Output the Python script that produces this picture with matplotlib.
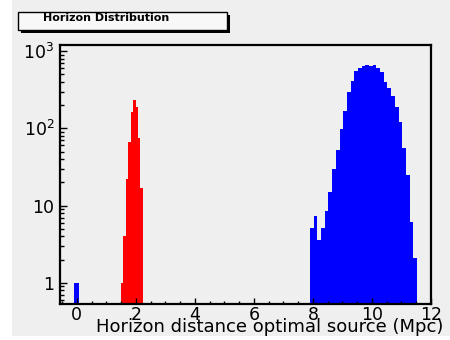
import numpy as np
import matplotlib
matplotlib.use("Agg")
import matplotlib.pyplot as plt
from matplotlib.patches import Rectangle
from matplotlib.ticker import FixedLocator, MultipleLocator, LogLocator, NullFormatter

# Histogram contents (counts per bin)
zero_low, zero_width = -0.09, 0.18
zero_counts = [1]

red_low, red_width = 1.49, 0.0833
red_counts = [1.0, 4.0, 22, 66, 165, 230, 190, 75, 17]

blue_low, blue_width = 7.9, 0.125
blue_counts = [5.2, 7.3, 3.6, 5.2, 8.4, 15, 30, 53, 97, 166, 294, 408, 550, 600,
               650, 670, 640, 670, 600, 534, 396, 330, 260, 190, 120, 55, 25,
               6.2, 2.1]

x_ticks = [0, 2, 4, 6, 8, 10, 12]
y_ticks = [1, 10, 100, 1000]
y_tick_labels = ["1", "10", r"10$^{2}$", r"10$^{3}$"]

title_text = "Horizon Distribution"
x_title = "Horizon distance optimal source (Mpc)"

W, H = 450, 340
bg = "#efefef"
plt.rcParams["font.family"] = ["DejaVu Sans"]
plt.rcParams["mathtext.fontset"] = "dejavusans"

fig = plt.figure(figsize=(W / 100, H / 100), dpi=100)
fig.patch.set_facecolor("white")
# grey canvas
fig.patches.append(Rectangle((12 / W, 4 / H), 1 - 12 / W, 1 - 4 / H,
                             transform=fig.transFigure, facecolor=bg,
                             edgecolor="none", zorder=-10))

ax = fig.add_axes([60 / W, 1 - 303.5 / H, (431 - 60) / W, (303.5 - 45) / H])
ax.set_facecolor(bg)


def draw_hist(low, width, counts, color):
    e = low + width * np.arange(len(counts) + 1)
    y = np.append(counts, counts[-1])
    ax.fill_between(e, y, 1e-3, step="post", color=color, linewidth=0)


draw_hist(zero_low, zero_width, zero_counts, "#0000ff")
draw_hist(red_low, red_width, red_counts, "#ff0000")
draw_hist(blue_low, blue_width, blue_counts, "#0000ff")

ax.set_yscale("log")
ax.set_xlim(-0.57, 12.0)
ax.set_ylim(0.54, 1200)

ax.xaxis.set_major_locator(FixedLocator(x_ticks))
ax.xaxis.set_minor_locator(MultipleLocator(0.5))
ax.set_xticklabels([str(t) for t in x_ticks])
ax.yaxis.set_major_locator(FixedLocator(y_ticks))
ax.yaxis.set_minor_locator(LogLocator(base=10, subs=np.arange(2, 10)))
ax.yaxis.set_minor_formatter(NullFormatter())
ax.set_yticklabels(y_tick_labels)

ax.tick_params(axis="x", which="major", direction="in", length=4, width=1,
               pad=1.5, labelsize=12.5, top=False)
ax.tick_params(axis="x", which="minor", direction="in", length=2, width=1,
               top=False)
ax.tick_params(axis="y", which="major", direction="in", length=5, width=1,
               pad=4, labelsize=12.5, right=False)
ax.tick_params(axis="y", which="minor", direction="in", length=3, width=1,
               right=False)
for s in ax.spines.values():
    s.set_linewidth(1.6)
    s.set_color("black")

fig.text(443 / W, 1 - 327 / H, x_title, ha="right", va="center",
         fontsize=13)

# title box with drop shadow
bx0, by0, bx1, by1 = 18, 12, 227, 30
fig.patches.append(Rectangle(((bx0 + 3) / W, 1 - (by1 + 3) / H),
                             (bx1 - bx0) / W, (by1 - by0) / H,
                             transform=fig.transFigure, facecolor="black",
                             edgecolor="none", zorder=1))
fig.patches.append(Rectangle((bx0 / W, 1 - by1 / H), (bx1 - bx0) / W,
                             (by1 - by0) / H, transform=fig.transFigure,
                             facecolor="#f8f8f8", edgecolor="black",
                             linewidth=1, zorder=2))
fig.text(43 / W, 1 - 18 / H, title_text, ha="left", va="center",
         fontsize=8, fontweight="bold", zorder=3)

fig.savefig("out.png", dpi=100, facecolor=fig.get_facecolor())
